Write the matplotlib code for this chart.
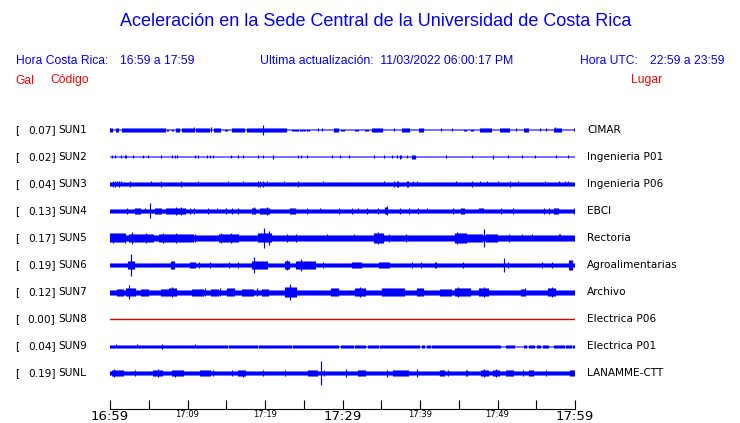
import matplotlib.pyplot as plt
import matplotlib.transforms as mtransforms
import numpy as np

# station table
codes = ['SUN1', 'SUN2', 'SUN3', 'SUN4', 'SUN5', 'SUN6', 'SUN7', 'SUN8', 'SUN9', 'SUNL']
gal = [0.07, 0.02, 0.04, 0.13, 0.17, 0.19, 0.12, 0.00, 0.04, 0.19]
places = ['CIMAR', 'Ingenieria P01', 'Ingenieria P06', 'EBCI', 'Rectoria',
          'Agroalimentarias', 'Archivo', 'Electrica P06', 'Electrica P01', 'LANAMME-CTT']

# trace envelopes: half amplitude (px) vs minutes after 16:59
base = [0.5, 0.5, 1.6, 1.7, 2.7, 1.7, 2.5, 0.5, 1.5, 1.7]

sun1_blocks = [(0.0, 0.3, 1.6), (0.77, 1.16, 1.6), (1.5, 7.1, 1.6), (7.3, 7.5, 1.4), (7.9, 8.2, 1.4),
               (8.4, 9.0, 1.6), (9.2, 10.9, 1.6), (11.0, 12.9, 1.6), (13.3, 14.2, 1.6), (14.8, 15.2, 1.4),
               (15.7, 17.4, 1.6), (17.6, 22.8, 1.6), (23.4, 24.3, 1.4), (24.5, 25.2, 1.4), (25.4, 25.8, 1.4),
               (28.8, 29.5, 1.6), (29.7, 30.3, 1.4), (31.6, 32.0, 1.4), (32.9, 33.3, 1.4), (33.8, 35.1, 1.6),
               (37.6, 38.7, 1.6), (39.8, 40.4, 1.6), (45.6, 46.0, 1.4), (46.5, 46.9, 1.4), (47.7, 49.2, 1.6),
               (50.3, 51.6, 1.6), (53.3, 54.0, 1.6), (57.2, 58.3, 1.6)]
sun1_spikes = [(10.9, 2.5), (13.0, 2.5), (19.8, 4.8), (57.4, 2.5), (26.8, 1.5), (27.4, 1.5), (36.6, 1.5),
               (42.7, 1.5), (44.1, 1.5), (52.4, 1.5), (55.5, 1.5), (56.3, 1.5), (59.9, 1.5)]

sun2_blocks = [(38.9, 39.4, 2.0)]
sun2_spikes = [(0.2, 1.5), (0.65, 1.5), (1.4, 1.5), (2.0, 1.5), (3.0, 1.5), (4.3, 1.5), (4.9, 1.5),
               (6.6, 1.5), (8.0, 1.5), (8.4, 1.5), (8.7, 1.5), (11.0, 1.5), (11.3, 1.5), (12.5, 1.5),
               (12.9, 1.5), (13.3, 1.5), (15.6, 1.5), (16.5, 1.5), (17.2, 1.5), (19.1, 1.5), (19.7, 1.5),
               (21.0, 1.8), (24.2, 1.5), (24.7, 1.5), (25.4, 1.5), (28.6, 1.5), (29.7, 1.5), (30.9, 1.5),
               (34.1, 1.5), (35.3, 1.5), (36.4, 1.5), (37.0, 1.5), (37.4, 2.0), (37.6, 1.5), (38.3, 1.5),
               (43.4, 1.5), (46.7, 1.5), (49.4, 2.0), (51.4, 1.5), (53.1, 1.5), (54.8, 1.5), (57.6, 1.5),
               (59.1, 1.5)]

sun3_blocks = []
sun3_spikes = [(0.43, 2.7), (0.65, 2.7), (0.86, 2.5), (1.16, 2.7), (1.42, 2.5), (2.58, 2.7), (5.3, 2.5),
               (6.6, 2.7), (9.2, 2.7), (11.3, 2.5), (15.2, 2.5), (17.2, 2.5), (19.1, 2.7), (19.4, 2.7),
               (19.7, 2.7), (20.3, 2.5), (22.4, 2.5), (24.3, 2.7), (27.5, 2.5), (35.4, 2.5), (36.6, 2.7),
               (37.0, 2.7), (37.2, 2.7), (38.3, 2.7), (38.5, 2.7), (39.1, 2.5), (39.6, 2.5), (44.7, 2.5),
               (46.7, 2.7), (47.7, 2.5), (48.7, 2.5), (50.1, 2.5), (51.6, 2.7), (52.6, 2.5), (56.1, 2.5),
               (57.9, 2.5), (58.7, 2.5), (59.1, 2.5)]

sun4_blocks = [(3.2, 3.9, 2.7), (5.8, 6.7, 2.7), (7.1, 9.7, 3.0), (18.3, 18.8, 3.3), (19.3, 20.6, 3.0),
               (23.2, 23.9, 2.7), (35.4, 35.7, 3.5), (45.2, 45.8, 2.7), (47.5, 48.2, 2.5), (57.2, 57.9, 3.0)]
sun4_spikes = [(5.1, 7.5), (2.2, 2.7), (4.5, 2.5), (9.2, 4.3), (8.5, 4.0), (10.3, 2.7), (10.8, 2.7),
               (12.7, 3.0), (13.8, 2.5), (15.0, 2.7), (15.8, 2.7), (16.5, 2.7), (18.6, 3.5), (20.2, 3.7),
               (25.4, 2.7), (27.1, 2.5), (29.5, 2.7), (31.2, 2.7), (32.0, 2.5), (33.1, 2.7), (34.6, 2.7),
               (35.7, 4.5), (37.4, 2.7), (38.6, 2.7), (39.8, 2.7), (40.9, 2.5), (44.3, 2.7), (50.5, 2.7),
               (52.0, 2.7), (56.0, 2.7), (56.6, 2.7), (57.6, 3.3), (59.9, 2.7)]

sun5_blocks = [(0.0, 2.0, 4.5), (2.4, 4.3, 4.2), (4.3, 5.6, 3.7), (6.2, 8.0, 4.3), (8.0, 10.8, 4.0),
               (10.8, 12.7, 3.3), (14.0, 16.6, 4.0), (17.0, 19.0, 3.2), (19.0, 20.9, 4.5), (25.0, 26.0, 3.2),
               (29.0, 30.0, 3.2), (34.0, 35.3, 4.7), (35.3, 44.5, 3.2), (44.5, 46.0, 4.7), (46.0, 48.0, 3.9),
               (48.4, 50.0, 3.7), (50.0, 54.5, 3.2), (59.0, 60.0, 3.4)]
sun5_spikes = [(0.4, 5.3), (1.9, 5.3), (2.9, 6.0), (4.6, 5.3), (6.9, 5.3), (8.5, 5.3), (11.0, 4.3),
               (14.3, 5.3), (15.6, 5.3), (19.9, 10.0), (20.5, 7.0), (22.8, 4.3), (24.0, 3.7), (28.0, 3.5),
               (31.5, 3.5), (34.6, 6.3), (36.0, 4.0), (38.2, 4.0), (44.8, 6.3), (45.7, 5.3), (48.2, 9.0),
               (51.5, 4.0), (53.2, 3.5), (54.5, 3.5), (58.0, 3.5)]

sun6_blocks = [(2.3, 3.2, 4.0), (7.8, 8.3, 3.5), (10.3, 11.0, 2.7), (18.3, 20.3, 3.5), (22.5, 23.2, 4.0),
               (24.0, 26.5, 3.5), (31.2, 32.5, 2.7), (34.6, 36.1, 3.0), (59.1, 59.7, 4.5)]
sun6_spikes = [(2.7, 11.0), (8.0, 4.3), (11.5, 2.7), (12.9, 2.7), (15.3, 2.7), (16.5, 2.7), (18.6, 8.3),
               (19.5, 4.3), (20.0, 3.3), (22.8, 5.0), (24.7, 6.5), (25.2, 4.3), (27.5, 2.7), (32.0, 3.0),
               (39.0, 2.7), (40.1, 2.7), (42.0, 2.7), (45.6, 2.7), (50.8, 7.0), (51.4, 3.0), (55.7, 2.7),
               (57.0, 3.3), (59.4, 5.0)]

sun7_blocks = [(0.8, 1.7, 3.5), (2.0, 3.3, 4.0), (4.0, 5.0, 3.5), (6.5, 7.5, 3.5), (7.5, 8.6, 4.2),
               (10.5, 12.0, 3.5), (13.0, 14.0, 3.5), (15.0, 16.0, 3.8), (17.0, 18.5, 3.5), (19.5, 20.5, 3.5),
               (22.5, 24.0, 4.5), (28.5, 29.5, 3.8), (31.5, 33.0, 3.8), (35.0, 38.0, 3.6), (39.5, 40.5, 3.8),
               (42.5, 44.0, 3.5), (44.5, 46.5, 3.8), (47.5, 48.8, 3.8), (53.0, 53.5, 3.5), (56.5, 57.5, 4.2)]
sun7_spikes = [(2.4, 7.0), (8.0, 4.6), (12.3, 4.0), (14.2, 4.0), (15.7, 4.3), (19.0, 3.8), (23.2, 8.0),
               (24.0, 4.8), (29.1, 4.0), (32.3, 4.6), (36.7, 4.0), (39.6, 4.3), (44.9, 4.6), (46.0, 4.0),
               (48.2, 4.6), (53.5, 3.8), (57.0, 4.6)]

sun8_blocks = []
sun8_spikes = []

# SUN9 is a steady band with thinner gaps
sun9_blocks = [(15.1, 15.3, 0.5), (19.0, 19.2, 0.5), (23.4, 23.6, 0.5), (29.5, 29.7, 0.5), (31.4, 31.6, 0.5),
               (33.0, 33.2, 0.5), (34.6, 34.8, 0.5), (40.0, 40.2, 0.5), (40.6, 40.8, 0.5), (41.3, 41.5, 0.5),
               (50.4, 51.0, 0.5), (52.2, 53.4, 0.5), (53.8, 54.0, 0.5), (54.8, 55.0, 0.5), (55.6, 55.8, 0.5),
               (56.6, 57.2, 0.5), (58.6, 58.8, 0.5), (59.5, 59.7, 0.5)]
sun9_spikes = [(6.7, 2.5), (0.8, 2.0), (3.5, 2.0), (11.0, 1.8)]

sunl_blocks = [(0.2, 1.7, 3.0), (2.3, 3.0, 2.3), (5.5, 6.8, 2.7), (8.0, 9.5, 2.7), (11.5, 13.0, 2.5),
               (16.5, 17.5, 3.3), (25.6, 26.8, 3.0), (32.0, 33.0, 2.5), (36.5, 38.5, 2.7), (42.5, 43.2, 2.7),
               (47.8, 48.8, 3.3), (49.4, 50.2, 3.3), (51.0, 52.0, 2.5), (54.0, 54.5, 2.5), (59.3, 60.0, 2.5)]
sunl_spikes = [(0.5, 3.7), (3.2, 3.0), (6.2, 4.3), (8.4, 3.5), (12.3, 2.7), (13.3, 2.7), (15.7, 2.7),
               (17.2, 3.5), (19.8, 2.7), (22.6, 3.0), (25.6, 2.7), (27.2, 12.0), (27.6, 3.0), (30.5, 4.3),
               (32.6, 2.7), (35.7, 3.5), (39.6, 4.3), (43.6, 2.7), (46.0, 2.7), (48.3, 3.7), (49.8, 3.7),
               (53.3, 2.7), (54.6, 2.7), (56.2, 2.7)]

blocks = [sun1_blocks, sun2_blocks, sun3_blocks, sun4_blocks, sun5_blocks,
          sun6_blocks, sun7_blocks, sun8_blocks, sun9_blocks, sunl_blocks]
spikes = [sun1_spikes, sun2_spikes, sun3_spikes, sun4_spikes, sun5_spikes,
          sun6_spikes, sun7_spikes, sun8_spikes, sun9_spikes, sunl_spikes]

tick_min = np.arange(0, 61, 5)
tick_labels = ['16:59', '', '17:09', '', '17:19', '', '17:29', '', '17:39', '', '17:49', '', '17:59']
big_ticks = ['16:59', '17:29', '17:59']

W, H = 740, 423
BLUE = '#0000ff'
RED = '#ff0000'
HEAD = 'Liberation Sans'

fig = plt.figure(figsize=(W / 100, H / 100), dpi=100)
ax = fig.add_axes([110 / W, 14 / H, 465 / W, 306 / H])
ax.set_xlim(0, 60)
ax.set_ylim(10 + 1 / 3, -1)
px = 1 / 27  # one pixel in trace units

cols = np.linspace(0, 60, 466)
half_col = 60 / 465 / 2
for i in range(len(codes)):
    env = np.full(cols.size, base[i])
    for t0, t1, a in blocks[i]:
        env[(cols >= t0) & (cols <= t1)] = a
    for t, a in spikes[i]:
        m = np.abs(cols - t) <= half_col * 1.01
        env[m] = np.maximum(env[m], a)
    if gal[i] == 0:
        ax.plot([0, 60], [i, i], color='#dd0000', lw=1.0)
    else:
        ax.vlines(cols, i - env * px, i + env * px, colors=BLUE, lw=0.85)

for s in ['top', 'left', 'right']:
    ax.spines[s].set_visible(False)
ax.spines['bottom'].set_linewidth(0.8)
ax.set_yticks([])
ax.set_xticks(tick_min)
ax.set_xticklabels(tick_labels)
ax.tick_params(axis='x', direction='in', length=6.5, width=0.8, pad=1.0)
for lbl in ax.get_xticklabels():
    lbl.set_fontfamily('DejaVu Sans')
    lbl.set_fontsize(9.5 if lbl.get_text() in big_ticks else 6)

# station labels, y follows the traces
tr = mtransforms.blended_transform_factory(fig.transFigure, ax.transData)
for i in range(len(codes)):
    ax.text(15 / W, i, '[', transform=tr, ha='left', va='center', fontsize=7.6, family='DejaVu Sans')
    ax.text(55.5 / W, i, f'{gal[i]:.2f}]', transform=tr, ha='right', va='center', fontsize=7.6,
            family='DejaVu Sans')
    ax.text(58.5 / W, i, codes[i], transform=tr, ha='left', va='center', fontsize=7.6, family='DejaVu Sans')
    ax.text(587 / W, i, places[i], transform=tr, ha='left', va='center', fontsize=7.6, family='DejaVu Sans')

# header
def fy(y):
    return 1 - y / H

fig.text(376 / W, fy(22), 'Aceleración en la Sede Central de la Universidad de Costa Rica',
         ha='center', va='center', color=BLUE, fontsize=12.95, family=HEAD)
fig.text(15.5 / W, fy(60.5), 'Hora Costa Rica:', ha='left', va='center', color=BLUE, fontsize=8.7, family=HEAD)
fig.text(120.5 / W, fy(60.5), '16:59 a 17:59', ha='left', va='center', color=BLUE, fontsize=8.7, family=HEAD)
fig.text(260 / W, fy(60.5), 'Ultima actualización:  11/03/2022 06:00:17 PM', ha='left', va='center',
         color=BLUE, fontsize=8.8, family=HEAD)
fig.text(580.5 / W, fy(60.5), 'Hora UTC:', ha='left', va='center', color=BLUE, fontsize=8.7, family=HEAD)
fig.text(650 / W, fy(60.5), '22:59 a 23:59', ha='left', va='center', color=BLUE, fontsize=8.7, family=HEAD)
fig.text(15 / W, fy(80.5), 'Gal', ha='left', va='center', color=RED, fontsize=8.7, family=HEAD)
fig.text(50 / W, fy(80.5), 'Código', ha='left', va='center', color=RED, fontsize=8.7, family=HEAD)
fig.text(630.5 / W, fy(80.5), 'Lugar', ha='left', va='center', color=RED, fontsize=8.7, family=HEAD)

fig.savefig('out.png', dpi=100)
